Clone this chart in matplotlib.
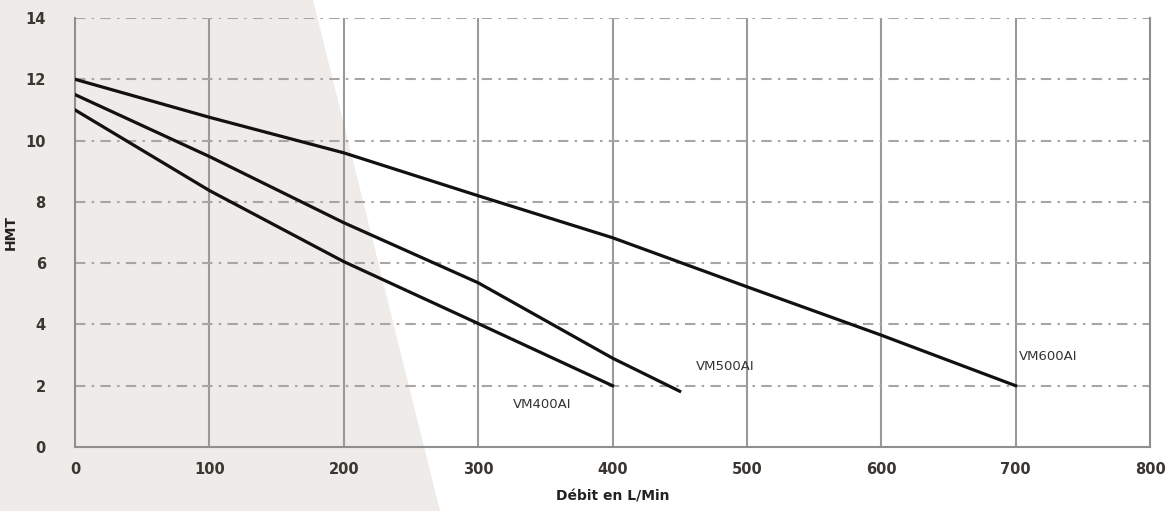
import matplotlib
matplotlib.use('Agg')
import matplotlib.pyplot as plt
from matplotlib.patches import Polygon


# Données
debit_400 = [0, 100, 200, 300, 400]
hmt_400 = [11.0, 8.37, 6.05, 4.03, 2.0]

debit_500 = [0, 100, 200, 300, 400, 450]
hmt_500 = [11.5, 9.48, 7.32, 5.36, 2.9, 1.82]

debit_600 = [0, 100, 200, 300, 400, 500, 600, 700]
hmt_600 = [12.0, 10.76, 9.6, 8.2, 6.83, 5.23, 3.65, 2.0]

noms = ['VM400AI', 'VM500AI', 'VM600AI']
x_ticks = [0, 100, 200, 300, 400, 500, 600, 700, 800]
y_ticks = [0, 2, 4, 6, 8, 10, 12, 14]

fig = plt.figure(figsize=(11.71, 5.11), dpi=100)
fig.patch.set_facecolor('white')

ax = fig.add_axes([75 / 1171, 64 / 511, 1075 / 1171, 429 / 511])
ax.patch.set_alpha(0)

# fond gris en biais à gauche (dessiné en coordonnées figure, sous tout le reste)
bg = Polygon([(0, 0), (440 / 1171, 0), (313 / 1171, 1), (0, 1)], closed=True,
             transform=fig.transFigure, facecolor='#eeebe8', edgecolor='none',
             zorder=-10, clip_on=False)
ax.add_patch(bg)

# grille
for x in x_ticks[1:-1]:
    ax.axvline(x, color='#9a9a9a', lw=1.5, zorder=1)
for y in y_ticks[1:]:
    ax.axhline(y, color='#a8a5a3', lw=1.5, dashes=(5, 3, 1.2, 3), zorder=1)

ax.plot(debit_400, hmt_400, color='#111111', lw=2.3, zorder=3)
ax.plot(debit_500, hmt_500, color='#111111', lw=2.3, zorder=3)
ax.plot(debit_600, hmt_600, color='#111111', lw=2.3, zorder=3)

ax.text(348, 1.4, noms[0], ha='center', va='center', fontsize=9.5, color='#333333')
ax.text(484, 2.64, noms[1], ha='center', va='center', fontsize=9.5, color='#333333')
ax.text(724, 2.94, noms[2], ha='center', va='center', fontsize=9.5, color='#333333')

ax.set_xlim(0, 800)
ax.set_ylim(0, 14)
ax.set_xticks(x_ticks)
ax.set_yticks(y_ticks)
ax.tick_params(length=0, labelsize=10.5, labelcolor='#3a3632')
ax.tick_params(axis='x', pad=11)
ax.tick_params(axis='y', pad=21)
for lab in ax.get_xticklabels() + ax.get_yticklabels():
    lab.set_fontweight('bold')

for s in ['left', 'bottom', 'right']:
    ax.spines[s].set_color('#8f8f8f')
    ax.spines[s].set_linewidth(1.5)
ax.spines['top'].set_visible(False)

ax.set_xlabel('Débit en L/Min', fontsize=10, fontweight='bold', color='#222222', labelpad=9)
ax.set_ylabel('HMT', fontsize=10, fontweight='bold', color='#222222')
ax.yaxis.set_label_coords(-57 / 1075, (447 - 232) / 429 * 0 + (447 - 232) / 429)

plt.savefig('out.png', dpi=100)
